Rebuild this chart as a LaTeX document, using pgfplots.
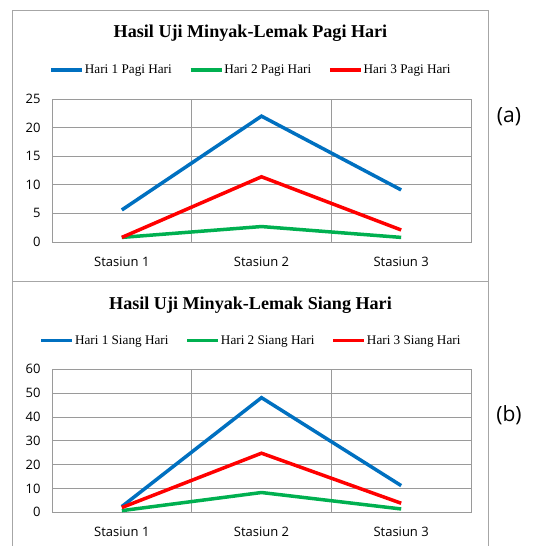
\documentclass[border=0pt]{standalone}
\usepackage{pgfplots}
\pgfplotsset{compat=1.18}
\usepackage{fontspec}
\setmainfont{Liberation Serif}
\newfontfamily\tickfont{Open Sans}
\definecolor{sblue}{HTML}{0070C0}
\definecolor{sgreen}{HTML}{00B050}
\definecolor{sred}{HTML}{FF0000}
\definecolor{gridc}{HTML}{9A9A9A}
\definecolor{framec}{HTML}{A6A6A6}
\pgfplotsset{
  mychart/.style={
    scale only axis, width=419bp, height=143bp,
    xmin=0.5, xmax=3.5,
    xtick={1,2,3},
    xticklabels={Stasiun 1,Stasiun 2,Stasiun 3},
    minor xtick={1.5,2.5},
    xminorgrids=true, ymajorgrids=true,
    major tick length=0pt, minor tick length=0pt,
    grid style={gridc, line width=0.9bp},
    minor grid style={gridc, line width=0.9bp},
    axis line style={gridc, line width=0.9bp},
    /pgf/number format/assume math mode=true,
    tick label style={font=\tickfont\fontsize{13bp}{15bp}\selectfont, black},
    xticklabel style={yshift=-11bp},
    yticklabel style={xshift=-8bp},
    legend columns=3,
    legend image code/.code={\draw[#1] (0bp,0bp) -- (31bp,0bp);},
    legend style={draw=none, fill=none, anchor=center,
      font=\fontsize{13.2bp}{15bp}\selectfont,
      nodes={inner sep=1bp},
      /tikz/every even column/.append style={column sep=16bp}},
    every axis plot/.append style={line width=3.5bp},
  }
}
\begin{document}
\begin{tikzpicture}[x=1bp,y=1bp]
\path[use as bounding box] (0,0) rectangle (544,546);
% frames
\draw[framec, line width=1.2bp] (12.5,264.3) rectangle (488.3,535.3);
\draw[framec, line width=1.2bp] (12.5,0) -- (12.5,264.3);
\draw[framec, line width=1.2bp] (488.3,0) -- (488.3,264.3);
% titles
\node[font=\bfseries\fontsize{18.1bp}{20bp}\selectfont] at (250.5,513) {Hasil Uji Minyak-Lemak Pagi Hari};
\node[font=\bfseries\fontsize{18.1bp}{20bp}\selectfont] at (250.5,241) {Hasil Uji Minyak-Lemak Siang Hari};
\node[font=\tickfont\fontsize{21bp}{23bp}\selectfont] at (509,429) {(a)};
\node[font=\tickfont\fontsize{21bp}{23bp}\selectfont] at (509,131) {(b)};
\begin{axis}[mychart, at={(52bp,304bp)}, anchor=south west,
  ymin=0, ymax=25, ytick={0,5,10,15,20,25},
  legend style={at={(0.4737,1.2028)}}]
\addplot[sblue] coordinates {(1,5.6) (2,22.0) (3,9.1)};
\addlegendentry{Hari 1 Pagi Hari}
\addplot[sgreen] coordinates {(1,0.8) (2,2.7) (3,0.8)};
\addlegendentry{Hari 2 Pagi Hari}
\addplot[sred] coordinates {(1,0.8) (2,11.4) (3,2.1)};
\addlegendentry{Hari 3 Pagi Hari}
\end{axis}
\begin{axis}[mychart, at={(52bp,33.7bp)}, anchor=south west,
  ymin=0, ymax=60, ytick={0,10,20,30,40,50,60},
  legend style={at={(0.4737,1.2)}}]
\addplot[sblue] coordinates {(1,2.4) (2,48.1) (3,11.2)};
\addlegendentry{Hari 1 Siang Hari}
\addplot[sgreen] coordinates {(1,0.7) (2,8.3) (3,1.4)};
\addlegendentry{Hari 2 Siang Hari}
\addplot[sred] coordinates {(1,2.0) (2,24.8) (3,3.8)};
\addlegendentry{Hari 3 Siang Hari}
\end{axis}
\end{tikzpicture}
\end{document}
